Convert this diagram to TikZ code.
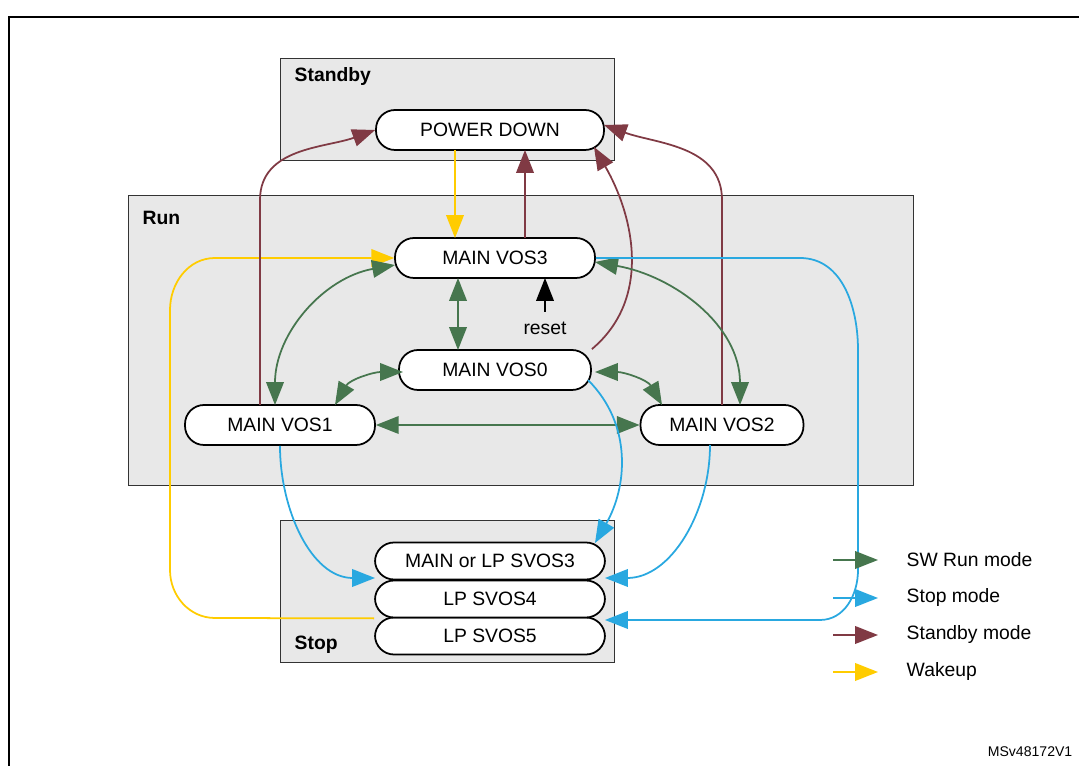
\documentclass[tikz,border=0pt]{standalone}
\usepackage{fontspec}
\setmainfont{Liberation Sans}
\usetikzlibrary{positioning,arrows.meta}

\definecolor{swgreen}{RGB}{70,118,78}
\definecolor{stopblue}{RGB}{41,168,224}
\definecolor{sbybrown}{RGB}{128,58,68}
\definecolor{wkyellow}{RGB}{255,204,0}
\definecolor{boxgray}{RGB}{232,232,232}

\tikzset{
  mode/.style={draw=black!80, fill=boxgray, thin},
  state/.style={draw, fill=white, rounded corners=0.38cm, minimum height=0.8cm, inner sep=0pt, font=\fontsize{11}{13}\selectfont},
  lbl/.style={font=\bfseries\fontsize{11}{13}\selectfont, anchor=west},
  tip/.style={-{Triangle[length=13pt,width=10pt]}},
  both/.style={{Triangle[length=13pt,width=10pt]}-{Triangle[length=13pt,width=10pt]}},
}

\begin{document}
\begin{tikzpicture}[x=0.02cm, y=-0.02cm, line width=1pt]

\useasboundingbox (0,0) rectangle (1079,766);

\path[draw, line width=1.2pt] (9,780) -- (9,17) -- (1090,17);

\path[draw, mode] (280,58) rectangle (614,160);
\path[draw, mode] (128,195) rectangle (913,485);
\path[draw, mode] (280,520) rectangle (614,662);
\node[lbl] at (288,77) {Standby};
\node[lbl] at (136,218) {Run};
\node[lbl] at (288,645) {Stop};

\node[state, minimum width=4.56cm] (pd) at (490,130) {POWER DOWN};
\node[state, minimum width=4.0cm] (v3) at (495,258) {MAIN VOS3};
\node[state, minimum width=3.84cm] (v0) at (495,370) {MAIN VOS0};
\node[state, minimum width=3.8cm] (v1) at (280,425) {MAIN VOS1};
\node[state, minimum width=3.26cm] (v2) at (722,425) {MAIN VOS2};
\node[state, minimum width=4.6cm, minimum height=0.74cm] (s5) at (490,636) {LP SVOS5};
\node[state, minimum width=4.6cm, minimum height=0.74cm] (s4) at (490,599) {LP SVOS4};
\node[state, minimum width=4.6cm, minimum height=0.74cm] (s3) at (490,561) {MAIN or LP SVOS3};

\coordinate (rst) at (545,312);
\node[font=\fontsize{11}{13}\selectfont] (rlab) at (545,328) {reset};

% wakeup
\path[draw, wkyellow, tip] (455,150) -- (455,238);
\path[draw, wkyellow, tip] (s4.south west) -- (215,618) to[out=180,in=-90] (170,570) -- (170,310) to[out=90,in=180] (215,258) -- (v3.west);

% standby
\path[draw, sbybrown, tip] (260,405) -- (260,200) to[out=90,in=200] (pd.west);
\path[draw, sbybrown, tip] (525,238) -- (525,150);
\path[draw, sbybrown, tip] (v0.north east) to[out=40,in=-60] (594,147);
\path[draw, sbybrown, tip] (722,405) -- (722,200) to[out=90,in=-20] (604,125);

% sw run
\path[draw, swgreen, both] (458,278) -- (458,350);
\path[draw, swgreen, both] (395,265) to[out=190,in=90] (275,405);
\path[draw, swgreen, both] (595,262) to[out=-10,in=90] (740,405);
\path[draw, swgreen, both] (403,372) to[out=180,in=60] (335,405);
\path[draw, swgreen, both] (595,372) to[out=0,in=120] (662,405);
\path[draw, swgreen, both] (v1.east) -- (v2.west);
\path[draw, black, tip] (rst) -- (545,278);

% stop
\path[draw, stopblue, tip] (v1.south) to[out=-90,in=180] (375,578);
\path[draw, stopblue, tip] (588,380) to[out=-45,in=60] (595,543);
\path[draw, stopblue, tip] (710,445) to[out=-90,in=0] (605,578);
\path[draw, stopblue, tip] (v3.east) -- (800,258) to[out=0,in=90] (858,350) -- (858,570) to[out=-90,in=0] (820,620) -- (605,620);

% legend
\foreach \y/\c/\t in {560/swgreen/SW Run mode, 598/stopblue/Stop mode, 635/sbybrown/Standby mode, 672/wkyellow/Wakeup}{
  \coordinate (l\y) at (833,\y);
  \path[draw, \c, tip] (l\y) -- ++(45,0);
  \node[anchor=west, font=\fontsize{11}{13}\selectfont] at (900,\y) {\t};
}
\node[anchor=east, font=\fontsize{8}{10}\selectfont] at (1079,752) {MSv48172V1};

\end{tikzpicture}
\end{document}
